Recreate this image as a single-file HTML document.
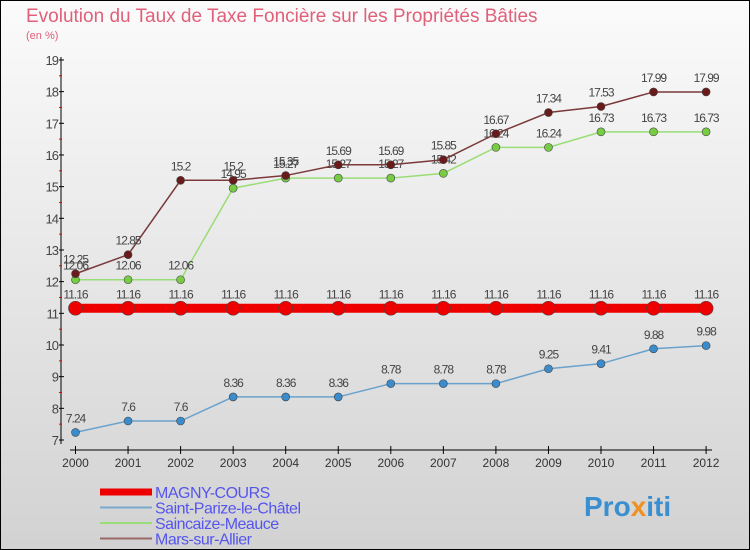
<!DOCTYPE html>
<html><head><meta charset="utf-8"><style>
body{margin:0}
#c{width:750px;height:550px;position:relative;overflow:hidden;background:linear-gradient(#fbfbfb,#d2d2d2);font-family:"Liberation Sans",sans-serif}
</style></head><body>
<div id="c">
<svg id="s" width="750" height="550" style="position:absolute;left:0;top:0">
<rect x="0.5" y="0.5" width="749" height="549" fill="none" stroke="#000"/>
<text x="26" y="22" font-size="19" fill="#e0607a">Evolution du Taux de Taxe Foncière sur les Propriétés Bâties</text>
<text x="26" y="39" font-size="11" fill="#e0607a">(en %)</text>
<g id="g"></g>
<text x="584" y="516" font-size="28" font-weight="bold" fill="#3a8fd0">Pro<tspan fill="#f09020">x</tspan>iti</text>
</svg>
</div>
<script>
const years=[2000,2001,2002,2003,2004,2005,2006,2007,2008,2009,2010,2011,2012];
const magny=[11.16,11.16,11.16,11.16,11.16,11.16,11.16,11.16,11.16,11.16,11.16,11.16,11.16];
const saintParize=[7.24,7.6,7.6,8.36,8.36,8.36,8.78,8.78,8.78,9.25,9.41,9.88,9.98];
const saincaize=[12.06,12.06,12.06,14.95,15.27,15.27,15.27,15.42,16.24,16.24,16.73,16.73,16.73];
const mars=[12.25,12.85,15.2,15.2,15.35,15.69,15.69,15.85,16.67,17.34,17.53,17.99,17.99];
const yTicks=[7,8,9,10,11,12,13,14,15,16,17,18,19];
const NS="http://www.w3.org/2000/svg";
const g=document.getElementById('g');
const X=i=>75.5+i*52.55;
const Y=v=>440-(v-7)*31.67;
function el(t,a){const e=document.createElementNS(NS,t);for(const k in a)e.setAttribute(k,a[k]);g.appendChild(e);return e;}
let e=el('line',{x1:61,y1:57,x2:61,y2:444,stroke:'#000'});


e=el('line',{x1:70,y1:450,x2:712,y2:450,stroke:'#000'});


yTicks.forEach(v=>{
 const t=el('line',{x1:59,x2:64,y1:Y(v),y2:Y(v),stroke:'#000'});
 
 
 if(v<19){const m=el('line',{x1:59,x2:62,y1:Y(v+0.5),y2:Y(v+0.5),stroke:'#e00'});
 
 }
 const l=el('text',{x:58,y:Y(v)+5,'font-size':13,'text-anchor':'end',fill:'#444','letter-spacing':'-1'});
 l.textContent=v;
 
 
});
years.forEach((yr,i)=>{
 const t=el('line',{x1:X(i),x2:X(i),y1:446,y2:454,stroke:'#000'});
 
 
 const l=el('text',{x:X(i),y:467,'font-size':12,'text-anchor':'middle',fill:'#333'});
 l.textContent=yr;
 
 
});
function series(vals,color,w,r,name,fill){
 const p=el('polyline',{points:vals.map((v,i)=>X(i)+','+Y(v)).join(' '),fill:'none',stroke:color,'stroke-width':w});
 
 
 vals.forEach((v,i)=>{
  const c=el('circle',{cx:X(i),cy:Y(v),r:r,fill:fill,stroke:'#444','stroke-width':0.6});
  
  
  const l=el('text',{x:X(i),y:Y(v)-10,'font-size':12,'text-anchor':'middle',fill:'#444','letter-spacing':'-1'});
  l.textContent=v;
  
  
 });
}
series(saintParize,'#6aa2cc',1.5,4,'saint-parize','#3a8ccc');
series(saincaize,'#99dd77',1.5,4,'saincaize','#77cc44');
series(mars,'#7a3a3a',1.5,4,'mars','#6a1a1a');
series(magny,'#ee0000',9,7,'magny','#ee0000');
const leg=[['MAGNY-COURS','#ee0000',7],['Saint-Parize-le-Châtel','#7aaad0',2],['Saincaize-Meauce','#99dd77',2],['Mars-sur-Allier','#9a6a6a',2]];
leg.forEach((d,i)=>{
 const yy=492+i*15.5;
 const l=el('line',{x1:100,x2:152,y1:yy,y2:yy,stroke:d[1],'stroke-width':d[2]});
 
 
 const t=el('text',{x:155,y:yy+6,'font-size':16,fill:'#5555ee','letter-spacing':'-0.5'});
 t.textContent=d[0];
 
 
});
</script>
</body></html>
